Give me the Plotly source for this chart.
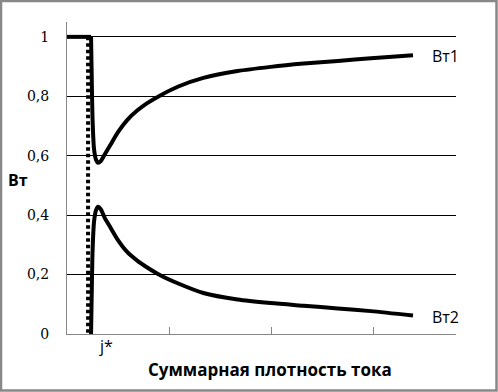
import plotly.graph_objects as go

# Data (x in arbitrary units of total current density; ticks at 0,1,2,3)
x_bt1 = [0.0, 0.235, 0.24, 0.25, 0.265, 0.285, 0.304, 0.33, 0.37, 0.422, 0.50, 0.588,
         0.686, 0.784, 0.912, 1.088, 1.333, 1.667, 1.99, 2.314, 2.647, 2.971, 3.382]
bt1 = [1.0, 1.0, 0.90, 0.72, 0.62, 0.585, 0.576, 0.582, 0.605, 0.635, 0.680, 0.720,
       0.752, 0.777, 0.803, 0.833, 0.862, 0.885, 0.899, 0.910, 0.919, 0.928, 0.938]

x_bt2 = [0.235, 0.24, 0.25, 0.265, 0.285, 0.304, 0.33, 0.37, 0.422, 0.50, 0.588,
         0.686, 0.784, 0.912, 1.088, 1.333, 1.667, 1.99, 2.314, 2.647, 2.971, 3.382]
bt2 = [0.0, 0.10, 0.28, 0.38, 0.418, 0.428, 0.42, 0.39, 0.36, 0.315, 0.276,
       0.247, 0.224, 0.198, 0.170, 0.138, 0.116, 0.104, 0.095, 0.086, 0.077, 0.062]

j_star_x = [0.206, 0.206]
j_star_y = [1.0, 0.0]

y_ticks = [0, 0.2, 0.4, 0.6, 0.8, 1.0]
y_tick_labels = ["0", "0,2", "0,4", "0,6", "0,8", "1"]
x_ticks = [0, 1, 2, 3]

W, H = 498, 392
L, R, T, B = 67, 42, 22, 58
pw, ph = W - L - R, H - T - B

def px(xp):
    return (xp - L) / pw

def py(yp):
    return (H - B - yp) / ph

fig = go.Figure()
fig.add_trace(go.Scatter(x=j_star_x, y=j_star_y, mode="lines",
                         line=dict(color="black", width=4, dash="3.5px,3px"),
                         showlegend=False, hoverinfo="skip"))
# Вт1: flat part (linear) + smooth curve
fig.add_trace(go.Scatter(x=x_bt1[:2], y=bt1[:2], mode="lines", name="Вт1",
                         line=dict(color="black", width=4), showlegend=False))
fig.add_trace(go.Scatter(x=x_bt1[1:], y=bt1[1:], mode="lines", name="Вт1",
                         line=dict(color="black", width=4, shape="spline", smoothing=0.7),
                         showlegend=False))
fig.add_trace(go.Scatter(x=x_bt2, y=bt2, mode="lines", name="Вт2",
                         line=dict(color="black", width=4, shape="spline", smoothing=0.7),
                         showlegend=False))

fig.update_layout(
    width=W, height=H,
    margin=dict(l=L, r=R, t=T, b=B),
    paper_bgcolor="white", plot_bgcolor="white",
    xaxis=dict(range=[0, pw / 102.3], tickvals=x_ticks, ticktext=["", "", "", ""],
               ticks="inside", ticklen=7, tickcolor="#868686", tickwidth=1,
               showline=True, linecolor="#868686", linewidth=1,
               showgrid=False, zeroline=False),
    yaxis=dict(range=[0, 1.05], tickvals=y_ticks, ticktext=y_tick_labels,
               showline=True, linecolor="#868686", linewidth=1,
               showgrid=True, gridcolor="black", gridwidth=1, zeroline=False,
               ticks="", ticklabelstandoff=14,
               tickfont=dict(family="DejaVu Serif", size=14, color="black")),
    font=dict(family="Open Sans", color="black"),
)

annotations = [
    dict(text="<b>Вт</b>", x=px(18), y=py(180), font=dict(size=16)),
    dict(text="<b>Суммарная плотность тока</b>", x=px(270), y=py(369), font=dict(size=17)),
    dict(text="j*", x=px(106), y=py(346), font=dict(size=16)),
    dict(text="Вт1", x=px(445), y=py(56), font=dict(size=16)),
    dict(text="Вт2", x=px(445), y=py(317), font=dict(size=16)),
]
for a in annotations:
    fig.add_annotation(xref="paper", yref="paper", showarrow=False,
                       xanchor="center", yanchor="middle", **a)

# outer frame of the chart
fig.add_shape(type="rect", xref="paper", yref="paper",
              x0=px(1), x1=px(496.5), y0=py(390.5), y1=py(1),
              line=dict(color="#888888", width=2.5), layer="above")

fig.write_html("out.html", config={"displayModeBar": False},
               post_script="document.body.style.margin='0';document.body.style.overflow='hidden';")
